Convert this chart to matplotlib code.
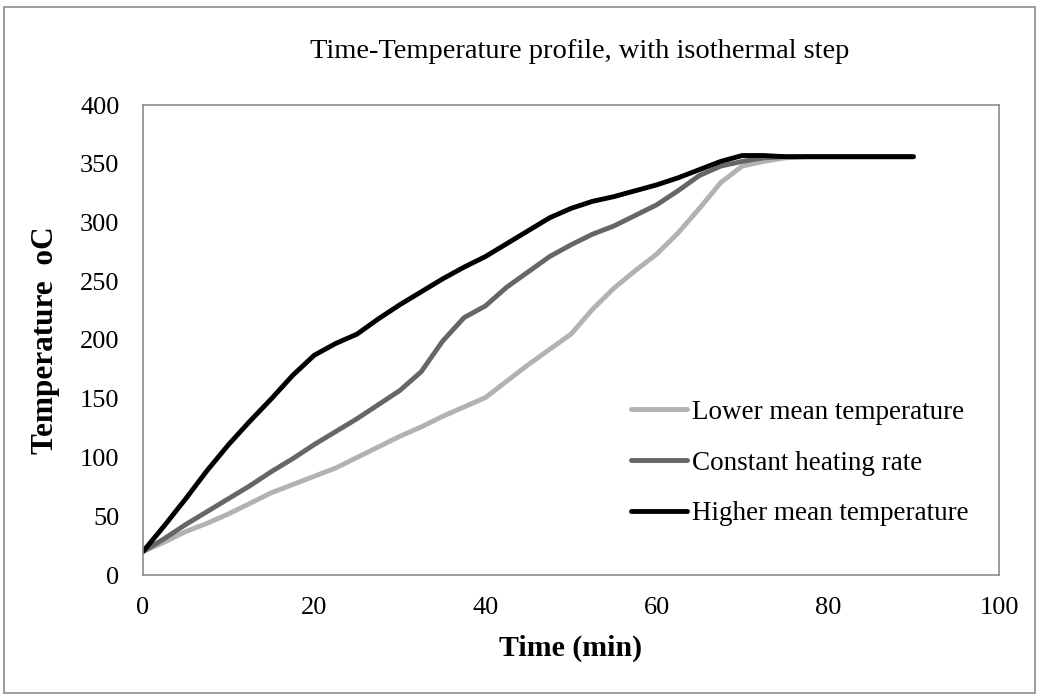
import matplotlib
matplotlib.use("Agg")
import matplotlib.pyplot as plt
from matplotlib.patches import Rectangle

time_min = [0, 2.5, 5, 7.5, 10, 12.5, 15, 17.5, 20, 22.5, 25, 27.5, 30, 32.5, 35, 37.5, 40,
            42.5, 45, 47.5, 50, 52.5, 55, 57.5, 60, 62.5, 65, 67.5, 70, 72.5, 75, 77.5, 80,
            82.5, 85, 87.5, 90]
lower_mean = [20, 28, 37, 44, 52, 61, 70, 77, 84, 91, 100, 109, 118, 126, 135, 143, 151,
              165, 179, 192, 205, 226, 244, 259, 273, 291, 312, 334, 348, 352, 355, 356, 356,
              356, 356, 356, 356]
constant_rate = [20, 31, 43, 54, 65, 76, 88, 99, 111, 122, 133, 145, 157, 173, 199, 219, 229,
                 245, 258, 271, 281, 290, 297, 306, 315, 327, 340, 348, 352, 355, 356, 356, 356,
                 356, 356, 356, 356]
higher_mean = [20, 42, 65, 89, 111, 131, 150, 170, 187, 197, 205, 218, 230, 241, 252, 262, 271,
               282, 293, 304, 312, 318, 322, 327, 332, 338, 345, 352, 357, 357, 356, 356, 356,
               356, 356, 356, 356]
series_names = ["Lower mean temperature", "Constant heating rate", "Higher mean temperature"]

plt.rcParams['font.family'] = ['Liberation Serif', 'DejaVu Serif']

fig = plt.figure(figsize=(10.42, 7.0), dpi=100)
ax = fig.add_axes([143/1042, 125/700, 856/1042, 470/700])

colors = ["#b2b2b2", "#666666", "#000000"]
for vals, name, c in zip([lower_mean, constant_rate, higher_mean], series_names, colors):
    ax.plot(time_min, vals, color=c, lw=3.5, label=name,
            solid_joinstyle='round', solid_capstyle='round')

ax.set_xlim(0, 100)
ax.set_ylim(0, 400)
ax.set_xticks(range(0, 101, 20))
ax.set_yticks(range(0, 401, 50))
ax.tick_params(length=0, labelsize=19)
ax.tick_params(axis='y', pad=17)
ax.tick_params(axis='x', pad=16)
for s in ax.spines.values():
    s.set_color("#8c8c8c")
    s.set_linewidth(1.2)

fig.text(571/1042, 1 - 648/700, "Time (min)", ha='center', va='center',
         fontsize=21.5, fontweight='bold')
fig.text(46/1042, 1 - 340/700, "Temperature  oC", ha='center', va='center',
         rotation=90, fontsize=22.5, fontweight='bold')
fig.text(580/1042, 1 - 52/700, "Time-Temperature profile, with isothermal step",
         ha='center', va='center', fontsize=20.5)

leg = ax.legend(loc='center left', bbox_to_anchor=(631/1042, 1 - 463/700),
                bbox_transform=fig.transFigure, frameon=False, fontsize=19.5,
                handlelength=2.05, handletextpad=0.2, labelspacing=0.95,
                borderaxespad=0, borderpad=0)

fig.patches.append(Rectangle((4/1042, 7/700), 1031/1042, 686/700, transform=fig.transFigure,
                             fill=False, edgecolor="#8c8c8c", lw=1.2))

fig.savefig("out.png", dpi=100)
